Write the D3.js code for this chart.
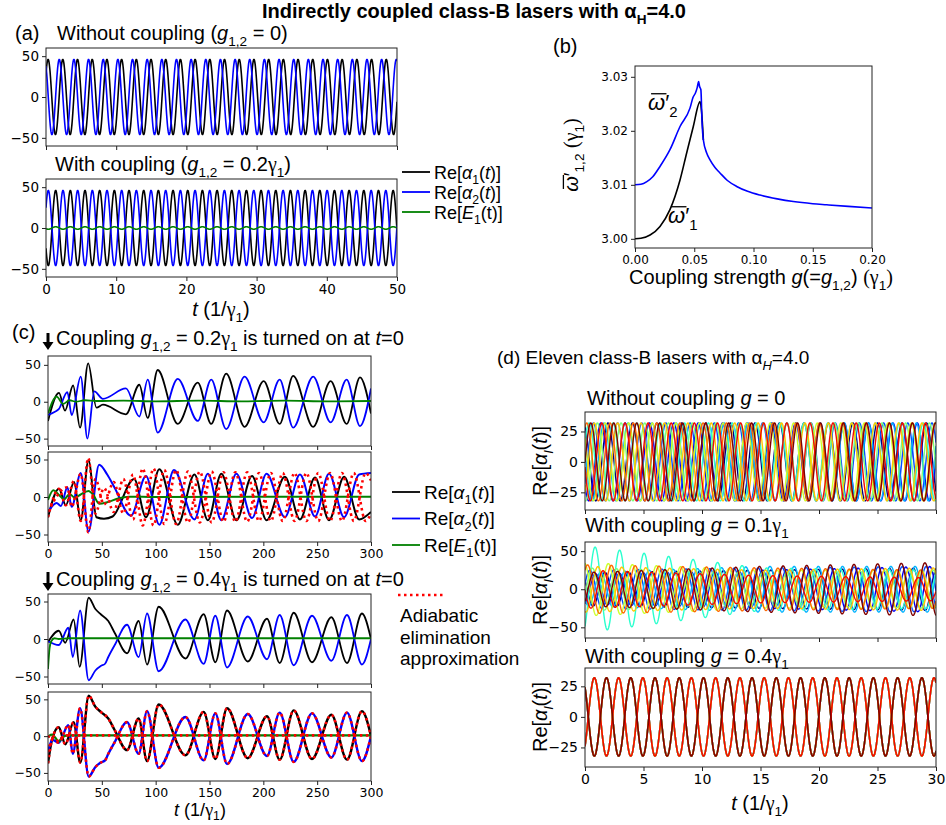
<!DOCTYPE html>
<html>
<head>
<meta charset="utf-8">
<script src="https://cdn.jsdelivr.net/npm/d3@7"></script>
<style>
  body { margin: 0; background: #fff; }
  svg { display: block; }
</style>
</head>
<body>
<script>
// ---------------- data ----------------
// (a) steady oscillations, Re = A cos(w t + phi), w taken from panel (b)
const aSeries = ["α", "α", "E"];
const a1Amp = [46, 46], a1Omega = [3.000, 3.010], a1Phase = [-0.9, 0.6];
const a2Amp = [-46, 46, -1.5], a2Omega = [3.006, 3.006, 3.006], a2Phase = [-1.0, -1.0, -1.0];

// (b) mean frequencies vs coupling strength
const bG1 = [0, 0.005, 0.0127, 0.0211, 0.0295, 0.038, 0.0436, 0.0492, 0.0549, 0.0562, 0.0577];
const bW1 = [3.0000, 3.0001, 3.0007, 3.0023, 3.0054, 3.0109, 3.0159, 3.0208, 3.0254, 3.0235, 3.0183];
const bG2 = [0, 0.005, 0.01, 0.015, 0.0211, 0.0295, 0.038, 0.0464, 0.049, 0.051, 0.0525, 0.0537, 0.0545,
  0.0556, 0.0566, 0.0577, 0.0605, 0.0633, 0.0675, 0.0717, 0.078, 0.0858, 0.095, 0.1055, 0.12, 0.1336,
  0.15, 0.1618, 0.18, 0.2];
const bW2 = [3.0100, 3.0101, 3.0106, 3.0115, 3.0134, 3.0165, 3.0208, 3.0242, 3.0262, 3.0270, 3.0280, 3.0291,
  3.0282, 3.0276, 3.0215, 3.0183, 3.0159, 3.0146, 3.0132, 3.0122, 3.0108, 3.0097, 3.0088, 3.0081, 3.0074,
  3.0069, 3.0065, 3.0063, 3.0060, 3.0057];

// (c) transients, [t, value] at the turning points
const c1Black = [[0,-26],[10.2,12],[15.8,-12],[23.3,22],[29.8,-35],[37.3,52],[45,-8],[51,-4],[72.4,-17],[84.8,23],
  [92.6,-22],[101.9,43],[120.5,-30],[139.1,26],[151.6,-30],[165.5,38],[182.6,-34],[200.3,28],[215.2,-30],
  [227.7,35],[246.3,-34],[262.5,28],[277.4,-30],[289.8,33],[300,-16]];
const c1Blue = [[0,-18],[6,-14],[10,-10],[18,13],[22,-18],[30.4,34],[36.6,-50],[43,14],[51,4],[72.4,18],
  [84.8,-20],[92.6,30],[101.9,-42],[120.5,31],[139.1,-26],[151.6,30],[165.5,-37],[182.6,34],[200.3,-28],
  [215.2,30],[227.7,-35],[246.3,34],[262.5,-28],[277.4,30],[289.8,-33],[300,18]];
const c1Green = [[0,-16],[8,7],[14,-3],[20,2],[26,0],[34,2],[45,1],[70,1.5],[100,0.5],[140,1.5],[180,0.5],
  [220,1.5],[260,0.5],[300,1]];

const c2Black = [[0,-27],[10.2,11],[16.5,-11],[24.2,20],[30.4,-31],[37.6,49],[45,-27],[52,-29],[60,-26],[80,24],
  [91,-27],[103.4,37],[120.5,-37],[136,30],[148.5,-31],[161,31],[175,-31],[189.5,28],[203,-31],[220,27],
  [234,-30],[248,26],[261,-31],[275,27],[289,-30],[300,-20]];
const c2Blue = [[0,-20],[8,-8],[12,-12],[18,13],[22,-13],[30.4,32],[37.6,-46],[47.5,43],[55,30],[62,12],[77,-25],
  [91,28],[103.4,-37],[117,36],[136,-30],[148.5,31],[161,-31],[175,31],[189.5,-28],[203,31],[220,-27],
  [234,30],[248,-26],[261,31],[275,-27],[289,30],[300,32]];
const c2Green = [[0,-4],[5,9],[10,3],[15,-3],[20,4],[25,-1],[30,3],[37.6,8],[42,3],[47.5,-9],[55,-7],[65,-2],
  [75,0.5],[100,0],[300,0.5]];
const c2Red1 = [[0,-27],[10.2,11],[16.5,-11],[24,21],[30.4,-32],[37.4,52],[44,-22],[52,12],[61,-20],[70,24],
  [79,-30],[88,38],[98,-38],[108,36],[119,-36],[130,34],[141,-34],[152,34],[163,-33],[174,33],[185,-33],
  [196,32],[207,-32],[218,32],[229,-32],[240,32],[251,-32],[262,32],[273,-32],[284,32],[295,-32],[300,-22]];
const c2Red2 = [[0,-20],[18,13],[22,-13],[30.4,31],[37.4,-47],[44,24],[52,-10],[61,20],[70,-22],[79,30],
  [88,-38],[98,38],[108,-36],[119,36],[130,-34],[141,34],[152,-34],[163,33],[174,-33],[185,33],[196,-32],
  [207,32],[218,-32],[229,32],[240,-32],[251,32],[262,-32],[273,32],[284,-32],[295,32],[300,22]];

const c3Black = [[0,-4],[10,11],[16,-5],[23.8,26],[29.4,-37],[37.8,55],[44,40],[49,33],[56,24],[62,8],[73.4,-19],
  [84.2,24],[92,-34],[102.8,43],[127.6,-26],[144.6,33],[155.4,-31],[166.3,38],[185.5,-30],[203.4,27],
  [215.2,-32],[228.2,35],[245.2,-31],[263.2,29],[277.7,-32],[291.6,34],[300,0]];
const c3Blue = [[0,-3],[10,-8],[18.9,15],[23,-24],[29.8,38],[37.8,-55],[44,-42],[49,-36],[53,-33],[56,-24],
  [62,-8],[73.4,19],[84.2,-24],[92,34],[102.8,-43],[127.6,26],[144.6,-33],[155.4,31],[166.3,-38],[185.5,30],
  [203.4,-27],[215.2,32],[228.2,-35],[245.2,31],[263.2,-29],[277.7,32],[291.6,-34],[300,0]];
const c3Green = [[0,-40],[1.5,-12],[3,-3],[6,1],[10,0],[20,1],[300,1]];

const c4Black = [[0,-37],[3.7,-5],[9.9,12],[16.1,-11],[23.8,19],[30,-36],[37.8,55],[44,40],[49,33],[56,24],
  [62,8],[73.4,-19],[84.2,24],[92,-34],[102.8,43],[127.6,-26],[144.6,33],[155.4,-31],[166.3,38],[185.5,-30],
  [203.4,27],[215.2,-32],[228.2,35],[245.2,-31],[263.2,29],[277.7,-32],[291.6,34],[300,0]];
const c4Blue = [[0,-22],[4,-5],[10,-9],[18.9,15],[23,-24],[29.8,38],[37.8,-55],[44,-42],[49,-36],[53,-33],
  [56,-24],[62,-8],[73.4,19],[84.2,-24],[92,34],[102.8,-43],[127.6,26],[144.6,-33],[155.4,31],[166.3,-38],
  [185.5,30],[203.4,-27],[215.2,32],[228.2,-35],[245.2,31],[263.2,-29],[277.7,32],[291.6,-34],[300,0]];
const c4Green = [[0,-2],[3,2],[6,-1],[10,-7],[13,-2],[18,1],[300,1]];

// (d) eleven lasers (jet colours), Re = A cos(w t + phi)
const dColors = ["#000080", "#0000f3", "#004dff", "#00b3ff", "#29ffce", "#7bff7b",
  "#ceff29", "#ffc600", "#ff6800", "#f30900", "#800000"];
const d1Amp = [32, 32, 32, 32, 32, 32, 32, 32, 32, 32, 32];
const d1Omega = [3.00, 3.02, 3.04, 3.06, 3.08, 3.10, 3.12, 3.14, 3.16, 3.18, 3.20];
const d1Phase = [0.4, 2.2, 4.1, 1.3, 5.2, 3.0, 0.9, 3.8, 5.8, 1.7, 4.7];
// amplitude envelope at t = 0, 15, 30
const d2AmpStart = [22, 20, 25, 22, 57, 28, 35, 30, 32, 25, 22];
const d2AmpMid = [25, 25, 28, 30, 28, 22, 25, 25, 28, 18, 30];
const d2AmpEnd = [28, 30, 30, 30, 25, 25, 25, 28, 25, 15, 35];
const d2Omega = [3.10, 3.08, 3.06, 3.04, 3.00, 3.02, 3.05, 3.07, 3.09, 3.03, 3.11];
const d2Phase = [1.0, 3.5, 5.0, 2.2, -2.6, 4.4, 0.2, 2.9, 5.6, 1.6, 3.9];
const d3Amp = [32, 32, 32, 32, 32, 32, 32, 32, 32, 32, 32];
const d3Omega = [3.03, 3.03, 3.03, 3.03, 3.03, 3.03, 3.03, 3.03, 3.03, 3.03, 3.03];
const d3Phase = [0.72, -2.42, 0.72, -2.42, 0.72, -2.42, 0.72, -2.42, 0.72, -2.42, 0.72];

// ---------------- drawing ----------------
const svg = d3.select("body").append("svg")
  .attr("width", 946).attr("height", 825)
  .style("font-family", "'Liberation Sans', Arial, sans-serif");

const SERIF = "'Liberation Serif', 'DejaVu Serif', serif";

// text with italic / subscript / serif / overbar pieces: [string, flags]
function rich(parent, x, y, parts, o = {}) {
  const fs = o.size || 20;
  const t = parent.append("text").attr("x", x).attr("y", y)
    .attr("font-size", fs).attr("fill", "#000")
    .attr("text-anchor", o.anchor || "start")
    .attr("font-weight", o.weight || "normal");
  const tr = o.rotate ? `rotate(-90,${x},${y})` : null;
  if (tr) t.attr("transform", tr);
  const sub = o.sub || 0.3;
  let shift = 0, nChar = 0;
  const bars = [];
  parts.forEach(p => {
    const str = typeof p === "string" ? p : p[0];
    const fl = typeof p === "string" ? "" : (p[1] || "");
    const s = t.append("tspan").text(str);
    const target = fl.includes("_") ? fs * sub : 0;
    if (target - shift) s.attr("dy", target - shift);
    shift = target;
    if (fl.includes("_")) s.attr("font-size", fs * 0.68);
    if (fl.includes("i")) s.attr("font-style", "italic");
    if (fl.includes("s")) s.attr("font-family", SERIF);
    if (fl.includes("b")) bars.push(nChar);
    nChar += str.length;
  });
  // overbars (mean frequency)
  bars.forEach(ci => {
    const e = t.node().getExtentOfChar(ci);
    const yb = e.y + 0.17 * fs;
    const l = parent.append("line")
      .attr("x1", e.x + 0.14 * fs).attr("x2", e.x + e.width + 0.06 * fs)
      .attr("y1", yb).attr("y2", yb)
      .attr("stroke", "#000").attr("stroke-width", 1.3);
    if (tr) l.attr("transform", tr);
  });
  return t;
}

let clipN = 0;
function axes(b) {
  const x = d3.scaleLinear().domain(b.xd).range([b.l, b.r]);
  const y = d3.scaleLinear().domain(b.yd).range([b.b, b.t]);
  const id = "clip" + (clipN++);
  svg.append("clipPath").attr("id", id).append("rect")
    .attr("x", b.l).attr("y", b.t).attr("width", b.r - b.l).attr("height", b.b - b.t);
  const plot = svg.append("g").attr("clip-path", `url(#${id})`);
  const xa = svg.append("g").attr("transform", `translate(0,${b.b})`)
    .call(d3.axisBottom(x).tickValues(b.xt).tickSize(4).tickPadding(3)
      .tickFormat(b.xlab ? (b.xf || d3.format("d")) : ""));
  const ya = svg.append("g").attr("transform", `translate(${b.l},0)`)
    .call(d3.axisLeft(y).tickValues(b.yt).tickSize(4).tickPadding(3)
      .tickFormat(b.yf || d3.format("d")));
  [xa, ya].forEach(a => {
    a.select(".domain").remove();
    a.attr("font-family", "'DejaVu Sans', sans-serif").attr("font-size", b.fs || 13);
    a.selectAll("line").attr("stroke", "#222").attr("stroke-width", 1);
    a.selectAll("text").attr("fill", "#000");
  });
  svg.append("rect").attr("x", b.l).attr("y", b.t)
    .attr("width", b.r - b.l).attr("height", b.b - b.t)
    .attr("fill", "none").attr("stroke", "#222").attr("stroke-width", 1);
  return { x, y, plot };
}

const line = (ax, curve) => d3.line()
  .x(d => ax.x(d[0])).y(d => ax.y(d[1])).curve(curve || d3.curveLinear);

function trace(ax, pts, color, w, curve, dash) {
  const p = ax.plot.append("path").datum(pts)
    .attr("d", line(ax, curve))
    .attr("fill", "none").attr("stroke", color).attr("stroke-width", w)
    .attr("stroke-linejoin", "round");
  if (dash) p.attr("stroke-dasharray", dash);
  return p;
}

// sampled cosine with amplitude function
function wave(ampAt, omega, phase, t1, dt) {
  return d3.range(0, t1 + dt / 2, dt).map(t => [t, ampAt(t) * Math.cos(omega * t + phase)]);
}

const BLACK = "#000000", BLUE = "#0000ff", GREEN = "#008000", RED = "#ff0000";
const DOTS = "2.5,3.5";

// ---- title ----
rich(svg, 474, 18, ["Indirectly coupled class-B lasers with α", ["H", "_"], "=4.0"],
  { size: 20, weight: "bold", anchor: "middle" });

// ---- (a) ----
rich(svg, 15, 40, ["(a)"]);
rich(svg, 57, 40, ["Without coupling (", ["g", "i"], ["1,2", "_"], " = 0)"]);
const a1 = axes({ l: 46, r: 397, t: 48, b: 146, xd: [0, 50], yd: [-60, 60],
  xt: [0, 10, 20, 30, 40, 50], yt: [-50, 0, 50], xlab: false, fs: 13.5 });
[BLACK, BLUE].forEach((c, i) =>
  trace(a1, wave(() => a1Amp[i], a1Omega[i], a1Phase[i], 50, 0.02), c, 1.6));

rich(svg, 55, 171, ["With coupling (", ["g", "i"], ["1,2", "_"], " = 0.2", ["γ", "s"], ["1", "_"], ")"]);
const a2 = axes({ l: 46, r: 397, t: 179, b: 277, xd: [0, 50], yd: [-60, 60],
  xt: [0, 10, 20, 30, 40, 50], yt: [-50, 0, 50], xlab: true, fs: 13.5 });
[BLACK, BLUE, GREEN].forEach((c, i) =>
  trace(a2, wave(() => a2Amp[i], a2Omega[i], a2Phase[i], 50, 0.02), c, 1.6));
rich(svg, 221, 316, [["t", "i"], " (1/", ["γ", "s"], ["1", "_"], ")"], { anchor: "middle" });

function legendRe(x, y, gap, fs, colors) {
  colors.forEach((c, i) => {
    const yy = y + i * gap;
    svg.append("line").attr("x1", x).attr("x2", x + 28).attr("y1", yy).attr("y2", yy)
      .attr("stroke", c).attr("stroke-width", 1.8);
    const sym = aSeries[i];
    const parts = sym === "E"
      ? ["Re[", ["E", "i"], ["1", "_"], "(t)]"]
      : ["Re[", [sym, "i"], [String(i + 1), "_"], "(", ["t", "i"], ")]"];
    rich(svg, x + 32, yy + 6.5, parts, { size: fs });
  });
}
legendRe(402, 172, 20, 18, [BLACK, BLUE, GREEN]);

// ---- (b) ----
rich(svg, 553, 53, ["(b)"]);
const bx = axes({ l: 635, r: 872, t: 66, b: 248, xd: [0, 0.2], yd: [2.9983, 3.032],
  xt: [0, 0.05, 0.1, 0.15, 0.2], yt: [3.00, 3.01, 3.02, 3.03], xlab: true,
  xf: d3.format(".2f"), yf: d3.format(".2f"), fs: 12 });
trace(bx, bG1.map((g, i) => [g, bW1[i]]), BLACK, 1.6, d3.curveMonotoneX);
trace(bx, bG2.map((g, i) => [g, bW2[i]]), BLUE, 1.6, d3.curveMonotoneX);
rich(svg, 648, 110, [["ω", "ib"], "\u2032", ["2", "_"]], { size: 22 });
rich(svg, 668, 223, [["ω", "ib"], "\u2032", ["1", "_"]], { size: 22 });
rich(svg, 761, 284, ["Coupling strength ", ["g", "i"], "(=", ["g", "i"], ["1,2", "_"], ") ",
  ["(γ", "s"], ["1", "_"], [")", "s"]], { anchor: "middle" });
rich(svg, 578, 155, [["ω", "ib"], "\u2032", ["1,2", "_"], " ", ["(γ", "s"], ["1", "_"], [")", "s"]],
  { anchor: "middle", rotate: true });

// ---- (c) ----
function arrow(xc, y0, y1) {
  svg.append("line").attr("x1", xc).attr("x2", xc).attr("y1", y0).attr("y2", y1 - 6)
    .attr("stroke", "#000").attr("stroke-width", 3);
  svg.append("path").attr("d", `M${xc - 5.5},${y1 - 8}L${xc + 5.5},${y1 - 8}L${xc},${y1}Z`).attr("fill", "#000");
}
rich(svg, 12, 339, ["(c)"]);
arrow(48, 333, 350);
rich(svg, 56, 345, ["Coupling ", ["g", "i"], ["1,2", "_"], " = 0.2", ["γ", "s"], ["1", "_"],
  " is turned on at ", ["t", "i"], "=0"]);
const cX = [0, 50, 100, 150, 200, 250, 300];
const c1 = axes({ l: 48, r: 371, t: 356, b: 446, xd: [0, 300], yd: [-60, 62], xt: cX, yt: [-50, 0, 50], fs: 12.5 });
trace(c1, c1Black, BLACK, 1.8, d3.curveMonotoneX);
trace(c1, c1Blue, BLUE, 1.8, d3.curveMonotoneX);
trace(c1, c1Green, GREEN, 1.8, d3.curveMonotoneX);

const c2 = axes({ l: 48, r: 371, t: 452, b: 542, xd: [0, 300], yd: [-60, 60], xt: cX, yt: [-50, 0, 50],
  xlab: true, fs: 12.5 });
trace(c2, c2Black, BLACK, 2, d3.curveMonotoneX);
trace(c2, c2Blue, BLUE, 2, d3.curveMonotoneX);
trace(c2, c2Green, GREEN, 2, d3.curveMonotoneX);
trace(c2, c2Red1, RED, 2.6, d3.curveMonotoneX, DOTS);
trace(c2, c2Red2, RED, 2.6, d3.curveMonotoneX, DOTS);

legendRe(392, 492, 26.5, 19, [BLACK, BLUE, GREEN]);
svg.append("line").attr("x1", 398).attr("x2", 446).attr("y1", 595).attr("y2", 595)
  .attr("stroke", RED).attr("stroke-width", 2.6).attr("stroke-dasharray", DOTS);
["Adiabatic", "elimination", "approximation"].forEach((s, i) =>
  rich(svg, 400, 622 + i * 21.5, [s], { size: 19 }));

arrow(48, 572, 591);
rich(svg, 56, 586, ["Coupling ", ["g", "i"], ["1,2", "_"], " = 0.4", ["γ", "s"], ["1", "_"],
  " is turned on at ", ["t", "i"], "=0"]);
const c3 = axes({ l: 48, r: 371, t: 594, b: 684, xd: [0, 300], yd: [-60, 60], xt: cX, yt: [-50, 0, 50], fs: 12.5 });
trace(c3, c3Black, BLACK, 1.8, d3.curveMonotoneX);
trace(c3, c3Blue, BLUE, 1.8, d3.curveMonotoneX);
trace(c3, c3Green, GREEN, 1.8, d3.curveMonotoneX);

const c4 = axes({ l: 48, r: 371, t: 692, b: 781, xd: [0, 300], yd: [-61, 60], xt: cX, yt: [-50, 0, 50],
  xlab: true, fs: 12.5 });
trace(c4, c4Black, BLACK, 2.4, d3.curveMonotoneX);
trace(c4, c4Blue, BLUE, 2.4, d3.curveMonotoneX);
trace(c4, c4Green, GREEN, 2.4, d3.curveMonotoneX);
[c4Black, c4Blue, c4Green].forEach(s => trace(c4, s, RED, 2.6, d3.curveMonotoneX, DOTS));
rich(svg, 200, 816, [["t", "i"], " (1/", ["γ", "s"], ["1", "_"], ")"], { anchor: "middle", size: 18, sub: 0.22 });

// ---- (d) ----
rich(svg, 497, 364, ["(d) Eleven class-B lasers with α", ["H", "_i"], "=4.0"], { size: 19 });
const dX = [0, 5, 10, 15, 20, 25, 30];
function dLabel(yc) {
  rich(svg, 547, yc, ["Re[", ["α", "i"], ["l", "_i"], "(", ["t", "i"], ")]"], { anchor: "middle", rotate: true });
}
rich(svg, 587, 405, ["Without coupling ", ["g", "i"], " = 0"]);
const d1 = axes({ l: 585, r: 936, t: 412, b: 510, xd: [0, 30], yd: [-39.5, 41], xt: dX, yt: [-25, 0, 25], fs: 14 });
dColors.forEach((c, i) => trace(d1, wave(() => d1Amp[i], d1Omega[i], d1Phase[i], 30, 0.02), c, 1.4));
dLabel(461);

rich(svg, 585, 532, ["With coupling ", ["g", "i"], " = 0.1", ["γ", "s"], ["1", "_"]]);
const d2 = axes({ l: 585, r: 936, t: 542, b: 638, xd: [0, 30], yd: [-64, 62], xt: dX, yt: [-50, 0, 50], fs: 14 });
dColors.forEach((c, i) => {
  const env = d3.scaleLinear().domain([0, 15, 30]).range([d2AmpStart[i], d2AmpMid[i], d2AmpEnd[i]]);
  trace(d2, wave(env, d2Omega[i], d2Phase[i], 30, 0.02), c, 1.4);
});
dLabel(590);

rich(svg, 585, 663, ["With coupling ", ["g", "i"], " = 0.4", ["γ", "s"], ["1", "_"]]);
const d3p = axes({ l: 585, r: 936, t: 668, b: 767, xd: [0, 30], yd: [-41, 40], xt: dX, yt: [-25, 0, 25],
  xlab: true, fs: 14 });
dColors.forEach((c, i) => trace(d3p, wave(() => d3Amp[i], d3Omega[i], d3Phase[i], 30, 0.02), c, 1.6));
dLabel(717);
rich(svg, 760, 810, [["t", "i"], " (1/", ["γ", "s"], ["1", "_"], ")"], { anchor: "middle" });
</script>
</body>
</html>
